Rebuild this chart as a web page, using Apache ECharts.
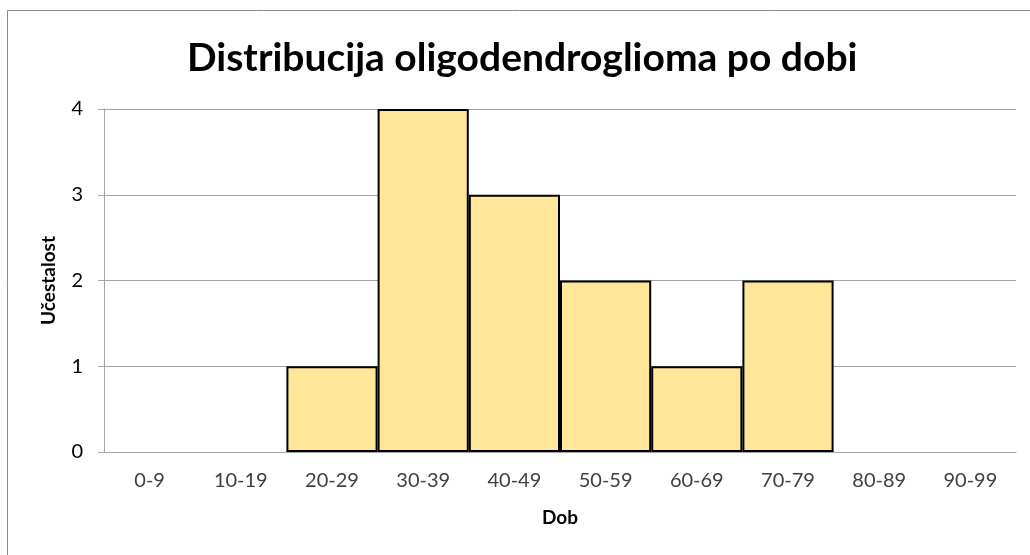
<!DOCTYPE html>
<html>
<head>
<meta charset="utf-8">
<script src="https://cdn.jsdelivr.net/npm/echarts@6/dist/echarts.min.js"></script>
<style>
  html, body { margin: 0; padding: 0; background: #fff; }
  #container { width: 1030px; height: 555px; }
</style>
</head>
<body>
<div id="container"></div>
<script>
var ageGroups = ['0-9', '10-19', '20-29', '30-39', '40-49', '50-59', '60-69', '70-79', '80-89', '90-99']
var counts = [0, 0, 1, 4, 3, 2, 1, 2, 0, 0]
var yTicks = [0, 1, 2, 3, 4]

var font = 'Lato, "Open Sans", sans-serif'

// empty classes get no outline, like the original
var barData = counts.map(function (v) {
    if (v === 0) {
        return { value: v, itemStyle: { borderWidth: 0 } }
    }
    return v
})

var myChart = echarts.init(document.getElementById('container'))
myChart.setOption({
    animation: false,
    backgroundColor: '#fff',
    title: {
        text: 'Distribucija oligodendroglioma po dobi',
        left: 182,
        top: 34,
        textStyle: {
            fontFamily: font,
            fontSize: 39,
            fontWeight: 'bold',
            color: '#000'
        }
    },
    graphic: [
        {
            type: 'rect',
            shape: { x: 7.5, y: 10.5, width: 1040, height: 560 },
            style: { fill: 'none', stroke: '#8c8c8c', lineWidth: 1 },
            silent: true
        }
    ],
    grid: {
        left: 104,
        right: 14,
        top: 109,
        bottom: 103
    },
    xAxis: {
        type: 'category',
        data: ageGroups,
        name: 'Dob',
        nameLocation: 'middle',
        nameGap: 56,
        nameTextStyle: {
            fontFamily: font,
            fontSize: 19,
            fontWeight: 'bold',
            color: '#000'
        },
        axisLine: { lineStyle: { color: '#a6a6a6', width: 1 } },
        axisTick: { show: false },
        axisLabel: {
            margin: 19,
            fontFamily: font,
            fontSize: 20,
            color: '#404040'
        }
    },
    yAxis: {
        type: 'value',
        min: 0,
        max: 4,
        interval: 1,
        name: 'Učestalost',
        nameLocation: 'middle',
        nameGap: 46,
        nameRotate: 90,
        nameTextStyle: {
            fontFamily: font,
            fontSize: 19,
            fontWeight: 'bold',
            color: '#000'
        },
        axisLine: { show: true, lineStyle: { color: '#a6a6a6', width: 1 } },
        axisTick: { show: true, inside: false, length: 6, lineStyle: { color: '#a6a6a6' } },
        splitLine: { lineStyle: { color: '#a6a6a6', width: 1 } },
        axisLabel: {
            margin: 21,
            fontFamily: font,
            fontSize: 20,
            color: '#000',
            formatter: function (v) { return yTicks.indexOf(v) >= 0 ? String(v) : '' }
        }
    },
    series: [
        {
            type: 'bar',
            data: barData,
            barCategoryGap: '0%',
            itemStyle: {
                color: '#ffe699',
                borderColor: '#000',
                borderWidth: 2
            }
        }
    ]
})
</script>
</body>
</html>
